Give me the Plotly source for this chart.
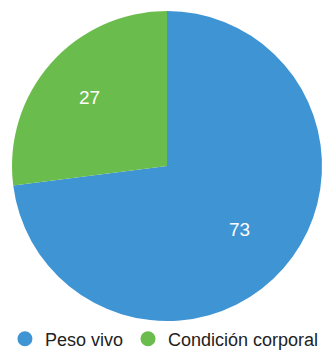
import math
import plotly.graph_objects as go

labels = ["Peso vivo", "Condición corporal"]
values = [73, 27]
colors = ["#3f94d4", "#6abd4c"]

W, H = 329, 351
# pie geometry (pixels)
cx, cy, R = 167, 166, 155
label_r = [0.62, 0.67]

fig = go.Figure()
fig.add_trace(go.Pie(
    labels=labels, values=values, sort=False, direction="clockwise", rotation=0,
    marker=dict(colors=colors, line=dict(width=0)),
    textinfo="none", showlegend=False, hoverinfo="label+value",
    domain=dict(x=[(cx - R) / W, (cx + R) / W], y=[1 - (cy + R) / H, 1 - (cy - R) / H]),
))
for lab, col in zip(labels, colors):
    fig.add_trace(go.Scatter(x=[None], y=[None], mode="markers", name=lab,
                             marker=dict(symbol="circle", size=15, color=col)))

total = sum(values)
cum = 0
anns = []
for v, rf in zip(values, label_r):
    mid = (cum + v / 2) / total * 360  # clockwise from top
    cum += v
    a = math.radians(90 - mid)
    px = cx + rf * R * math.cos(a)
    py = cy - rf * R * math.sin(a)
    anns.append(dict(x=px / W, y=1 - py / H, xref="paper", yref="paper", text=str(v),
                     showarrow=False, xanchor="center", yanchor="middle",
                     font=dict(color="white", size=19, family="Liberation Sans, Arial")))

fig.update_layout(
    width=W, height=H,
    margin=dict(l=0, r=0, t=0, b=0, autoexpand=False),
    paper_bgcolor="white", plot_bgcolor="white",
    xaxis=dict(visible=False), yaxis=dict(visible=False),
    annotations=anns,
    showlegend=True,
    legend=dict(orientation="h", x=0.015, xanchor="left", y=1 - 339 / H, yanchor="middle",
                xref="container", yref="container",
                font=dict(size=18, color="#222", family="Liberation Sans, Arial"),
                itemwidth=30, tracegroupgap=0, bgcolor="rgba(0,0,0,0)"),
)
fig.write_html("out.html")
